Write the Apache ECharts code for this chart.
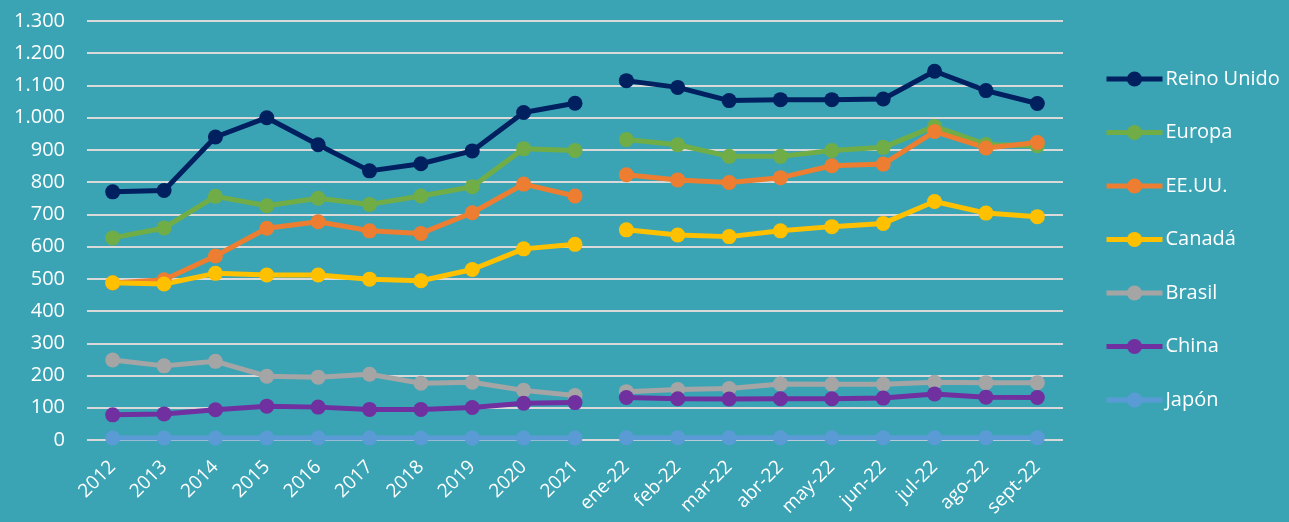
<!DOCTYPE html>
<html lang="es">
<head>
<meta charset="utf-8">
<script src="https://cdn.jsdelivr.net/npm/echarts@6/dist/echarts.min.js"></script>
<style>
  html, body { margin: 0; padding: 0; background: #3aa4b5; }
  #main { width: 1289px; height: 522px; }
</style>
</head>
<body>
<div id="main"></div>
<script>
// categorias: años y luego meses de 2022
var categories = ['2012', '2013', '2014', '2015', '2016', '2017', '2018', '2019', '2020', '2021',
  'ene-22', 'feb-22', 'mar-22', 'abr-22', 'may-22', 'jun-22', 'jul-22', 'ago-22', 'sept-22'];
var yearCount = 10; // los primeros 10 son anuales, luego hay un corte en la linea

var reinoUnido = [770, 774, 940, 1000, 916, 835, 857, 897, 1016, 1045,
  1115, 1094, 1053, 1056, 1056, 1058, 1144, 1084, 1044];
var europa = [627, 658, 756, 727, 750, 731, 757, 786, 904, 898,
  932, 916, 880, 880, 898, 908, 973, 917, 913];
var eeuu = [487, 497, 571, 657, 677, 649, 641, 705, 794, 757,
  823, 807, 799, 814, 851, 856, 957, 906, 923];
var canada = [488, 484, 517, 512, 512, 499, 494, 529, 593, 607,
  652, 636, 631, 649, 662, 672, 740, 704, 693];
var brasil = [248, 230, 244, 198, 195, 204, 176, 179, 154, 138,
  150, 157, 160, 174, 173, 173, 179, 178, 178];
var china = [78, 81, 94, 105, 102, 95, 95, 101, 114, 116,
  132, 128, 127, 128, 128, 130, 143, 133, 132];
var japon = [6, 6, 6, 6, 6, 6, 6, 6, 6, 6,
  7, 7, 7, 7, 7, 7, 7, 7, 7];

var countries = [
  { name: 'Reino Unido', data: reinoUnido, color: '#002060' },
  { name: 'Europa', data: europa, color: '#70ad47' },
  { name: 'EE.UU.', data: eeuu, color: '#ed7d31' },
  { name: 'Canadá', data: canada, color: '#ffc000' },
  { name: 'Brasil', data: brasil, color: '#a5a5a5' },
  { name: 'China', data: china, color: '#7030a0' },
  { name: 'Japón', data: japon, color: '#5b9bd5' }
];

function makeSeries(c, part) {
  var d = c.data.map(function (v, i) {
    if (part === 0) return i < yearCount ? v : '-';
    return i >= yearCount ? v : '-';
  });
  return {
    name: c.name,
    type: 'line',
    data: d,
    symbol: 'circle',
    symbolSize: 15,
    lineStyle: { width: 5, color: c.color },
    itemStyle: { color: c.color },
    connectNulls: false,
    animation: false
  };
}

var series = [];
countries.forEach(function (c) {
  series.push(makeSeries(c, 0));
  series.push(makeSeries(c, 1));
});

var font = '"Open Sans", "Noto Sans", sans-serif';

var myChart = echarts.init(document.getElementById('main'));
myChart.setOption({
  backgroundColor: '#3aa4b5',
  color: countries.map(function (c) { return c.color; }),
  grid: { left: 87, right: 226, top: 21, bottom: 82 },
  legend: {
    orient: 'vertical',
    left: 1104,
    top: 69,
    padding: 0,
    itemWidth: 56,
    itemHeight: 19,
    itemGap: 33.5,
    data: countries.map(function (c) { return c.name; }),
    lineStyle: { width: 5 },
    textStyle: { color: '#ffffff', fontSize: 20, fontFamily: font, padding: [0, 0, 0, -2] }
  },
  xAxis: {
    type: 'category',
    data: categories,
    boundaryGap: true,
    axisLine: { show: false },
    axisTick: { show: false },
    axisLabel: {
      color: '#ffffff',
      fontSize: 19,
      fontFamily: font,
      rotate: 45,
      interval: 0,
      margin: 24
    }
  },
  yAxis: {
    type: 'value',
    min: 0,
    max: 1300,
    interval: 100,
    axisLine: { show: false },
    axisTick: { show: false },
    splitLine: { lineStyle: { color: '#d9d9d9', width: 2 } },
    axisLabel: {
      color: '#ffffff',
      fontSize: 20,
      fontFamily: font,
      margin: 22,
      formatter: function (v) {
        return String(v).replace(/\B(?=(\d{3})+(?!\d))/g, '.');
      }
    }
  },
  series: series
});
</script>
</body>
</html>
